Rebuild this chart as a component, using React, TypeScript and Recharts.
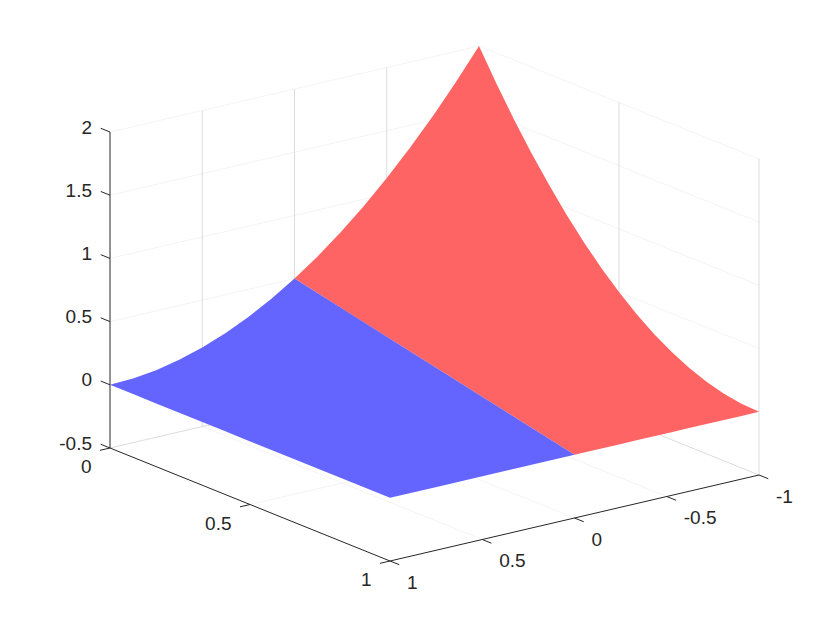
/**
 * Surface over x in [0, 1], y in [-1, 1], blue for y > 0 and red for y < 0.
 * Recharts has no 3D chart, so points go through a fixed projection and are
 * then drawn on hidden numeric axes that span the whole picture.
 */

import { ComposedChart, XAxis, YAxis, Area, Line, Scatter } from 'recharts'

// Tick values
const xTicks = [0, 0.5, 1]
const yTicks = [1, 0.5, 0, -0.5, -1]
const zTicks = [-0.5, 0, 0.5, 1, 1.5, 2]

// Surface height along x = 0
const backY = [1, 0.875, 0.75, 0.625, 0.5, 0.375, 0.25, 0.125, 0, -0.125, -0.25, -0.375, -0.5, -0.625, -0.75, -0.875, -1]
const backZ = [0, 0.008, 0.031, 0.07, 0.125, 0.195, 0.281, 0.383, 0.5, 0.633, 0.781, 0.945, 1.125, 1.32, 1.531, 1.758, 2]

// Surface height along y = -1
const sideX = [0, 0.0625, 0.125, 0.1875, 0.25, 0.3125, 0.375, 0.4375, 0.5, 0.5625, 0.625, 0.6875, 0.75, 0.8125, 0.875, 0.9375, 1]
const sideZ = [2, 1.758, 1.531, 1.32, 1.125, 0.945, 0.781, 0.633, 0.5, 0.383, 0.281, 0.195, 0.125, 0.07, 0.031, 0.008, 0]

// Surface height along y = 0, where the two colours meet
const seamX = [0, 0.5, 1]
const seamZ = [0.5, 0.25, 0]

const W = 840
const H = 630
const AXIS = '#262626'
const GRID_STRONG = '#dcdcdc'
const GRID_FAINT = '#f4f4f4'
const FONT = '"Liberation Sans", Arial, sans-serif'
const LAYER = { position: 'absolute', left: 0, top: 0 } as const
const NO_MARGIN = { top: 0, right: 0, bottom: 0, left: 0 }

type P = { sx: number; sy: number }
type D3 = [number, number, number]

const project = ([x, y, z]: D3): P => ({
    sx: 110 + 280 * x + 184.5 * (1 - y),
    sy: 448 + 113 * x - 43 * (1 - y) - 126.4 * (z + 0.5),
})

const seg = (a: D3, b: D3): P[] => [project(a), project(b)]

const shift = (p: P, dx: number, dy: number): P => ({ sx: p.sx + dx, sy: p.sy + dy })

const at = (chain: P[], sx: number) => {
    for (let i = 1; i < chain.length; i++) {
        const a = chain[i - 1]
        const b = chain[i]
        if (sx <= b.sx) return a.sy + ((b.sy - a.sy) * (sx - a.sx)) / (b.sx - a.sx)
    }
    return chain[chain.length - 1].sy
}

// Area needs both outlines at the same horizontal positions
const between = (upper: P[], lower: P[]) => {
    const all = [...upper, ...lower].map((p) => p.sx)
    const xs = Array.from(new Set(all)).sort((a, b) => a - b)
    return xs.map((sx) => ({ sx, range: [at(lower, sx), at(upper, sx)] }))
}

const back = backY.map((y, i) => project([0, y, backZ[i]]))
const side = sideX.map((x, i) => project([x, -1, sideZ[i]]))
const seam = seamX.map((x, i) => project([x, 0, seamZ[i]]))
const middle = backY.indexOf(0)

const blueData = between(
    [...back.slice(0, middle + 1), ...seam.slice(1)],
    [project([0, 1, 0]), project([1, 1, 0]), project([1, 0, 0])],
)
const redData = between(
    [...back.slice(middle), ...side.slice(1)],
    [...seam, project([1, -1, 0])],
)

const floorZ = -0.5
const topZ = 2

const faintLines: P[][] = [
    ...zTicks.slice(1).map((z) => seg([0, 1, z], [0, -1, z])),
    ...zTicks.slice(1).map((z) => seg([0, -1, z], [1, -1, z])),
    ...yTicks.slice(1, 4).map((y) => seg([0, y, floorZ], [1, y, floorZ])),
    seg([0.5, 1, floorZ], [0.5, -1, floorZ]),
]

const strongLines: P[][] = [
    ...yTicks.slice(1, 4).map((y) => seg([0, y, floorZ], [0, y, topZ])),
    seg([0.5, -1, floorZ], [0.5, -1, topZ]),
    seg([1, -1, floorZ], [1, -1, topZ]),
    seg([0, 1, floorZ], [0, -1, floorZ]),
    seg([0, -1, floorZ], [1, -1, floorZ]),
]

const axisLines: P[][] = [
    seg([0, 1, floorZ], [0, 1, topZ]),
    seg([0, 1, floorZ], [1, 1, floorZ]),
    seg([1, 1, floorZ], [1, -1, floorZ]),
    ...zTicks.map((z) => seg([0, 1, z], [-0.033, 1, z])),
    ...xTicks.map((x) => seg([x, 1, floorZ], [x, 1.054, floorZ])),
    ...yTicks.map((y) => seg([1, y, floorZ], [1.033, y, floorZ])),
]

const labels = [
    ...zTicks.map((z) => ({ ...shift(project([0, 1, z]), -18, -5), text: String(z), anchor: 'end' })),
    ...xTicks.map((x) => ({ ...shift(project([x, 1, floorZ]), -18.5, 18.5), text: String(x), anchor: 'end' })),
    ...yTicks.map((y) => ({ ...shift(project([1, y, floorZ]), 17, 21), text: String(y), anchor: 'start' })),
]

const LabelText = (props: any) => (
    <text
        x={props.cx}
        y={props.cy}
        textAnchor={props.payload.anchor}
        dominantBaseline="central"
        fill={AXIS}
        fontSize={19}
        fontFamily={FONT}
    >
        {props.payload.text}
    </text>
)

const lineSeries = (lines: P[][], color: string, name: string) =>
    lines.map((data, i) => (
        <Line
            key={`${name}-${i}`}
            data={data}
            dataKey="sy"
            type="linear"
            stroke={color}
            strokeWidth={1}
            dot={false}
            legendType="none"
            isAnimationActive={false}
        />
    ))

const hiddenAxes = [
    <XAxis key="x" dataKey="sx" type="number" domain={[0, W]} hide allowDuplicatedCategory={false} />,
    <YAxis key="y" dataKey="sy" type="number" domain={[0, H]} reversed hide />,
]

export default function App() {
    return (
        <div style={{ ...LAYER, width: W, height: H, background: '#fff' }}>
            {/* Recharts paints lines over areas, so the grid gets its own chart underneath */}
            <div style={LAYER}>
                <ComposedChart width={W} height={H} margin={NO_MARGIN}>
                    {hiddenAxes}
                    {lineSeries(faintLines, GRID_FAINT, 'faint')}
                    {lineSeries(strongLines, GRID_STRONG, 'strong')}
                </ComposedChart>
            </div>
            <div style={LAYER}>
                <ComposedChart width={W} height={H} margin={NO_MARGIN}>
                    {hiddenAxes}
                    <Area data={redData} dataKey="range" type="linear" fill="#ff6464" fillOpacity={1} stroke="none" dot={false} isAnimationActive={false} />
                    <Area data={blueData} dataKey="range" type="linear" fill="#6464ff" fillOpacity={1} stroke="none" dot={false} isAnimationActive={false} />
                    {lineSeries(axisLines, AXIS, 'axis')}
                    <Scatter data={labels} shape={LabelText} isAnimationActive={false} />
                </ComposedChart>
            </div>
        </div>
    )
}
